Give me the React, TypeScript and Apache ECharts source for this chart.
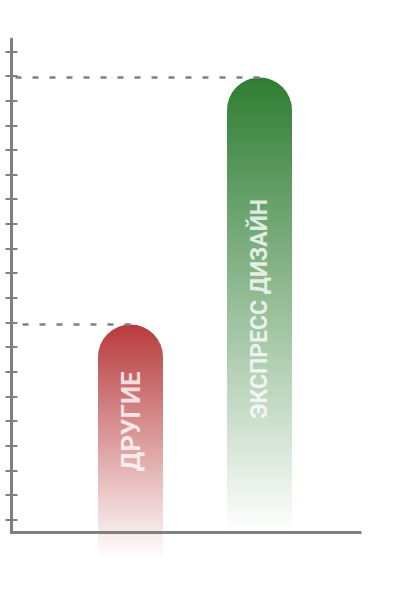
import React, { useEffect, useRef } from 'react';
import * as echarts from 'echarts';

// ---- data ----
const categories = ['ДРУГИЕ', 'ЭКСПРЕСС ДИЗАЙН'];
const values = [42.1, 92.2];
// value at which each bar's fading fill ends (red fades out below the axis)
const fadeEnds = [-5.3, 0];
const barColors = ['184,58,60', '46,125,50'];
// 20 unlabeled tick slots on the vertical axis
const yTickSlots = ['', '', '', '', '', '', '', '', '', '', '', '', '', '', '', '', '', '', '', ''];

// ---- layout / style ----
const AXIS_COLOR = '#808080';
const GRID_LEFT = 11.5;
const BAR_WIDTH = 65;
const LABEL_FONT_SIZES = [26, 23];
const LABEL_SHIFT = [-7, 4];

export default function App() {
  const ref = useRef<HTMLDivElement>(null);

  useEffect(() => {
    document.body.style.margin = '0';
    if (!ref.current) return;
    const chart = echarts.init(ref.current, undefined, { renderer: 'svg' });

    const renderItem = (params: any, api: any) => {
      const i = params.dataIndex;
      const cat = api.value(0);
      const top = api.coord([cat, api.value(1)]);
      const base = api.coord([cat, api.value(2)]);
      const zero = api.coord([cat, 0]);
      const w = BAR_WIDTH;
      const rgb = barColors[i];
      return {
        type: 'group',
        children: [
          {
            type: 'rect',
            shape: { x: top[0] - w / 2, y: top[1], width: w, height: base[1] - top[1], r: [w / 2, w / 2, 0, 0] },
            style: {
              fill: new echarts.graphic.LinearGradient(0, 0, 0, 1, [
                { offset: 0, color: `rgba(${rgb},1)` },
                { offset: 1, color: `rgba(${rgb},0)` },
              ]),
            },
          },
          {
            type: 'line',
            shape: { x1: top[0], y1: top[1], x2: GRID_LEFT, y2: top[1] },
            style: { stroke: AXIS_COLOR, lineWidth: 2.5, lineDash: [6, 11] },
          },
          {
            type: 'text',
            x: top[0],
            y: (top[1] + zero[1]) / 2 + LABEL_SHIFT[i],
            rotation: Math.PI / 2,
            style: {
              text: categories[i],
              fill: 'rgba(255,255,255,0.78)',
              fontSize: LABEL_FONT_SIZES[i],
              fontWeight: 'bold',
              fontFamily: 'Roboto',
              align: 'center',
              verticalAlign: 'middle',
            },
          },
        ],
      };
    };

    const tickAxis = (inside: boolean, showLine: boolean) => ({
      gridIndex: 0,
      type: 'category',
      position: 'left',
      data: yTickSlots,
      z: 5,
      axisLine: { show: showLine, lineStyle: { color: AXIS_COLOR, width: 3 } },
      axisTick: { show: true, alignWithLabel: true, inside, length: 6, lineStyle: { color: AXIS_COLOR, width: 2 } },
      axisLabel: { show: false },
      splitLine: { show: false },
    });

    chart.setOption({
      animation: false,
      grid: [
        { left: GRID_LEFT, right: 40, top: 39, bottom: 68 },
        { left: 66, right: 76, top: 39, bottom: 68 },
      ],
      xAxis: [
        {
          gridIndex: 0,
          type: 'value',
          min: 0,
          max: 1,
          z: 5,
          axisLine: { show: true, lineStyle: { color: AXIS_COLOR, width: 3, cap: 'square' } },
          axisTick: { show: false },
          axisLabel: { show: false },
          splitLine: { show: false },
        },
        { gridIndex: 1, type: 'category', data: categories, show: false },
      ],
      yAxis: [
        tickAxis(false, true),
        tickAxis(true, false),
        { gridIndex: 1, type: 'value', min: 0, max: 100, show: false },
      ],
      series: [
        {
          type: 'custom',
          xAxisIndex: 1,
          yAxisIndex: 2,
          clip: false,
          z: 1,
          encode: { x: 0, y: 1 },
          renderItem,
          data: categories.map((c, i) => [i, values[i], fadeEnds[i]]),
        },
      ],
    });

    return () => chart.dispose();
  }, []);

  return <div ref={ref} style={{ width: 400, height: 600 }} />;
}
